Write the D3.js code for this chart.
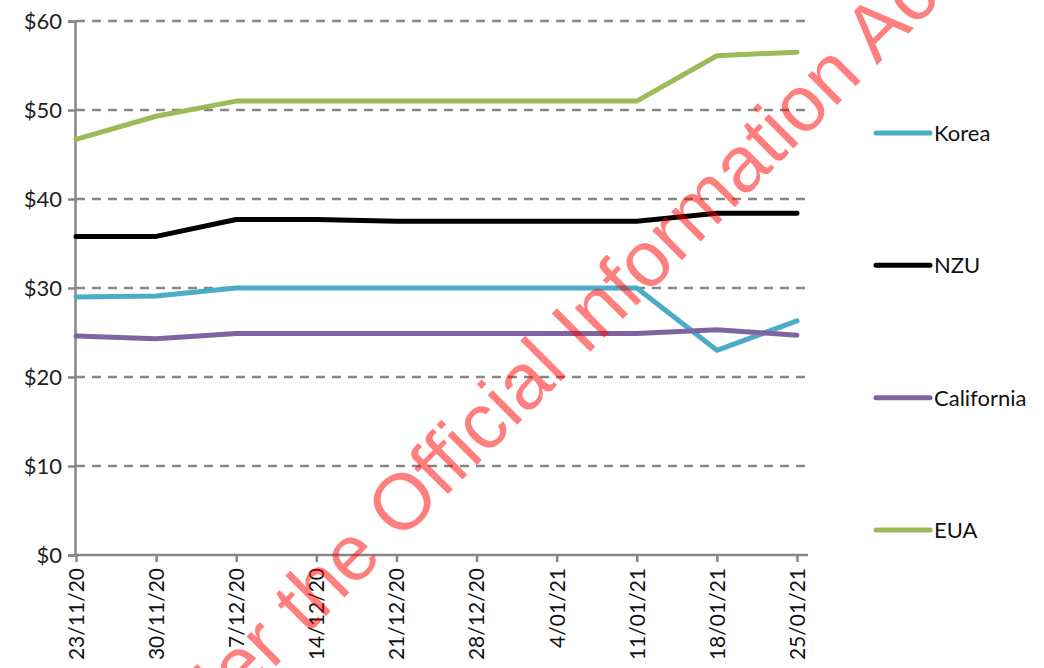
<!DOCTYPE html>
<html>
<head>
<meta charset="utf-8">
<script src="https://cdn.jsdelivr.net/npm/d3@7"></script>
<style>
  body { margin: 0; background: #fff; }
  svg { display: block; font-family: Lato, "Open Sans", sans-serif; }
</style>
</head>
<body>
<svg id="chart" width="1044" height="668"></svg>
<script>
const dates = ["23/11/20", "30/11/20", "7/12/20", "14/12/20", "21/12/20", "28/12/20", "4/01/21", "11/01/21", "18/01/21", "25/01/21"];
const korea = [29.0, 29.1, 30.0, 30.0, 30.0, 30.0, 30.0, 30.0, 23.0, 26.3];
const nzu = [35.8, 35.8, 37.7, 37.7, 37.5, 37.5, 37.5, 37.5, 38.4, 38.4];
const california = [24.6, 24.3, 24.9, 24.9, 24.9, 24.9, 24.9, 24.9, 25.3, 24.7];
const eua = [46.7, 49.3, 51.0, 51.0, 51.0, 51.0, 51.0, 51.0, 56.1, 56.5];
const yTicks = [0, 10, 20, 30, 40, 50, 60];

const series = [
  { name: "Korea", values: korea, color: "#4bacc6" },
  { name: "NZU", values: nzu, color: "#000000" },
  { name: "California", values: california, color: "#8064a2" },
  { name: "EUA", values: eua, color: "#9bbb59" },
];

const svg = d3.select("#chart");
const plotL = 76, plotR = 797, plotT = 21, plotB = 555;

const x = d3.scalePoint().domain(dates).range([plotL, plotR]);
const y = d3.scaleLinear().domain([0, 60]).range([plotB, plotT]);

// dashed gridlines
svg.append("g")
  .selectAll("line")
  .data(yTicks.filter((d) => d > 0))
  .join("line")
  .attr("x1", plotL)
  .attr("x2", 806)
  .attr("y1", (d) => y(d))
  .attr("y2", (d) => y(d))
  .attr("stroke", "#878787")
  .attr("stroke-width", 2.4)
  .attr("stroke-dasharray", "9,7");

// y axis
const yAxis = svg.append("g")
  .attr("transform", `translate(${plotL - 1},0)`)
  .call(d3.axisLeft(y).tickValues(yTicks).tickSize(7).tickPadding(6).tickFormat((d) => "$" + d));
yAxis.select(".domain").attr("stroke", "#878787").attr("stroke-width", 2.5);
yAxis.selectAll(".tick line").attr("stroke", "#878787").attr("stroke-width", 2.5);
yAxis.selectAll(".tick text")
  .attr("font-size", 22)
  .attr("font-family", "Lato, sans-serif")
  .attr("fill", "#222");

// x axis
const xAxis = svg.append("g")
  .attr("transform", `translate(0,${plotB})`)
  .call(d3.axisBottom(x).tickSize(7).tickSizeOuter(0));
xAxis.select(".domain")
  .attr("d", `M${plotL - 2},0H808`)
  .attr("stroke", "#878787")
  .attr("stroke-width", 2.5);
xAxis.selectAll(".tick line").attr("stroke", "#878787").attr("stroke-width", 2.5);
xAxis.selectAll(".tick text")
  .attr("font-size", 21)
  .attr("font-family", "Lato, sans-serif")
  .attr("fill", "#111")
  .attr("text-anchor", "end")
  .attr("dy", "0.35em")
  .attr("transform", "translate(0,13) rotate(-90)")
  .attr("x", 0)
  .attr("y", 0);

// series lines
const line = d3.line()
  .x((d, i) => x(dates[i]))
  .y((d) => y(d));

svg.append("g")
  .selectAll("path")
  .data(series)
  .join("path")
  .attr("d", (d) => line(d.values))
  .attr("fill", "none")
  .attr("stroke", (d) => d.color)
  .attr("stroke-width", 5)
  .attr("stroke-linecap", "round")
  .attr("stroke-linejoin", "round");

// legend
const legendY = d3.scalePoint().domain(series.map((d) => d.name)).range([133, 530]);
const legend = svg.append("g")
  .selectAll("g")
  .data(series)
  .join("g")
  .attr("transform", (d) => `translate(874,${legendY(d.name)})`);
legend.append("line")
  .attr("x1", 2).attr("x2", 56)
  .attr("stroke", (d) => d.color)
  .attr("stroke-width", 5)
  .attr("stroke-linecap", "round");
legend.append("text")
  .attr("x", 60)
  .attr("dy", "0.36em")
  .attr("font-size", 22)
  .attr("fill", "#111")
  .text((d) => d.name);

// watermark
svg.append("text")
  .attr("transform", "translate(427,515) rotate(-45)")
  .attr("text-anchor", "middle")
  .attr("font-family", "Liberation Sans, Arial, sans-serif")
  .attr("font-size", 79)
  .attr("fill", "#ff0000")
  .attr("fill-opacity", 0.5)
  .text("Released under the Official Information Act");
</script>
</body>
</html>
